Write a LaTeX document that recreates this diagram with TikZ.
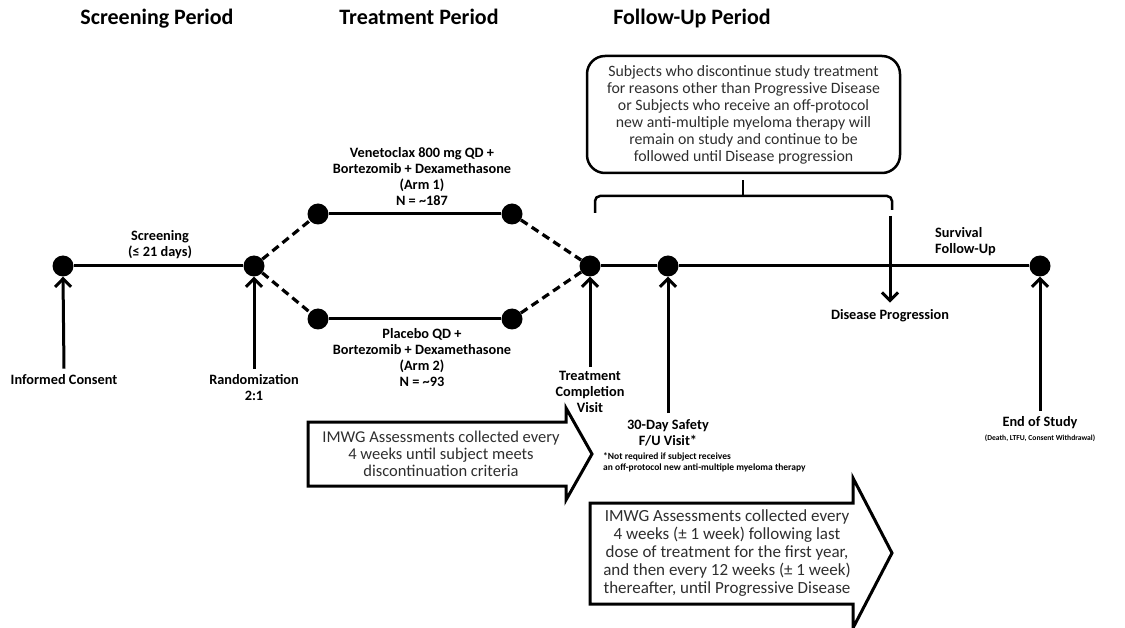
\documentclass[tikz,border=0pt]{standalone}
\usepackage{fontspec}
\setmainfont{Carlito}
\usetikzlibrary{arrows.meta}
\begin{document}
\begin{tikzpicture}[x=1pt,y=-1pt,
  dot/.style={circle,fill=black,minimum size=21pt,inner sep=0pt},
  tl/.style={line width=3pt},
  dsh/.style={line width=3.2pt,dash pattern=on 8pt off 5pt},
  up/.style={line width=3pt,-{Straight Barb[length=8pt,width=16pt]}},
  lbl/.style={font=\bfseries\fontsize{14.3}{16}\selectfont,align=center,inner sep=0pt},
  ttl/.style={font=\bfseries\fontsize{22}{24}\selectfont,inner sep=0pt,anchor=base},
  blk/.style={line width=3pt,line join=miter},
  btxt/.style={align=center,inner sep=0pt,text=black!82},
]
\useasboundingbox (0,0) rectangle (1125,628);

% titles
\node[ttl] (t1) at (157,25) {Screening Period};
\node[ttl] (t2) at (419,25) {Treatment Period};
\node[ttl] (t3) at (692,25) {Follow-Up Period};

% dots
\node[dot] (ic) at (63,266) {};
\node[dot] (rand) at (254,266) {};
\node[dot] (ua1) at (318,214) {};
\node[dot] (ua2) at (512,214) {};
\node[dot] (la1) at (318,319) {};
\node[dot] (la2) at (512,319) {};
\node[dot] (tc) at (590,266) {};
\node[dot] (d30) at (668,266) {};
\node[dot] (eos) at (1040,266) {};

% timeline
\draw[tl] (ic) -- (rand);
\draw[tl] (ua1) -- (ua2);
\draw[tl] (la1) -- (la2);
\draw[tl] (tc) -- (d30) -- (eos);
\draw[dsh] (rand) -- (ua1);
\draw[dsh] (rand) -- (la1);
\draw[dsh] (ua2) -- (tc);
\draw[dsh] (la2) -- (tc);

% labels
\node[lbl] (scr) at (160,244.5) {Screening\\(≤ 21 days)};
\node[lbl] (arm1) at (422,177) {Venetoclax 800 mg QD +\\Bortezomib + Dexamethasone\\(Arm 1)\\N = \textasciitilde187};
\node[lbl] (arm2) at (422,357.5) {Placebo QD +\\Bortezomib + Dexamethasone\\(Arm 2)\\N = \textasciitilde93};
\node[lbl] (icl) at (64,380) {Informed Consent};
\node[lbl] (randl) at (254,388) {Randomization\\2:1};
\node[lbl] (tcl) at (590,392) {Treatment\\Completion\\Visit};
\node[lbl] (d30l) at (668,432.5) {30-Day Safety\\F/U Visit*};
\node[lbl,font=\bfseries\fontsize{9.5}{11.5}\selectfont,align=left,anchor=west] (note) at (603,462.5) {*Not required if subject receives\\an off-protocol new anti-multiple myeloma therapy};
\node[lbl] (dpl) at (890,316) {Disease Progression};
\node[lbl,align=left,anchor=west] (surv) at (935,242) {Survival\\Follow-Up};
\node[lbl] (eosl) at (1040,423) {End of Study};
\node[lbl,font=\bfseries\fontsize{7.6}{9}\selectfont] (eosn) at (1040,438) {(Death, LTFU, Consent Withdrawal)};

% upward arrows
\draw[up] ([yshift=6pt]icl.north) -- (ic.south);
\draw[up] ([yshift=6pt]randl.north) -- (rand.south);
\draw[up] ([yshift=4pt]tcl.north) -- (tc.south);
\draw[up] ([yshift=6pt]d30l.north) -- (d30.south);
\draw[up] ([yshift=6pt]eosl.north) -- (eos.south);

% rounded box and brace
\node[draw,rounded corners=18pt,line width=2.5pt,minimum width=313pt,minimum height=117pt,
      inner sep=0pt,align=center,text=black!82,font=\fontsize{15.8}{17}\selectfont] (box) at (743.5,114.5)
  {Subjects who discontinue study treatment\\for reasons other than Progressive Disease\\or Subjects who receive an off-protocol\\new anti-multiple myeloma therapy will\\remain on study and continue to be\\followed until Disease progression};
\coordinate (bl) at (595,213);
\coordinate (bc) at (743,196);
\coordinate (br) at (892,210);
\coordinate (bt) at (743,180);
\draw[line width=2.5pt,rounded corners=5pt] (bl) |- (bc) -| (br);
\draw[line width=2.5pt] (bc) -- (bt);
\coordinate (dptop) at (890,216);
\draw[up] (dptop) -- ([yshift=7pt]dpl.north);

% block arrows
\draw[blk] (308,422) -- (566,422) -- (566,408) -- (592,454) -- (566,500) -- (566,486) -- (308,486) -- cycle;
\node[btxt,font=\fontsize{16.5}{17}\selectfont] (a1t) at (441,454)
  {IMWG Assessments collected every\\4 weeks until subject meets\\discontinuation criteria};
\draw[blk] (590,503) -- (853,503) -- (853,478) -- (892,553) -- (853,628) -- (853,604) -- (590,604) -- cycle;
\node[btxt,font=\fontsize{17}{17.8}\selectfont] (a2t) at (727,553)
  {IMWG Assessments collected every\\4 weeks (± 1 week) following last\\dose of treatment for the first year,\\and then every 12 weeks (± 1 week)\\thereafter, until Progressive Disease};
\end{tikzpicture}
\end{document}
